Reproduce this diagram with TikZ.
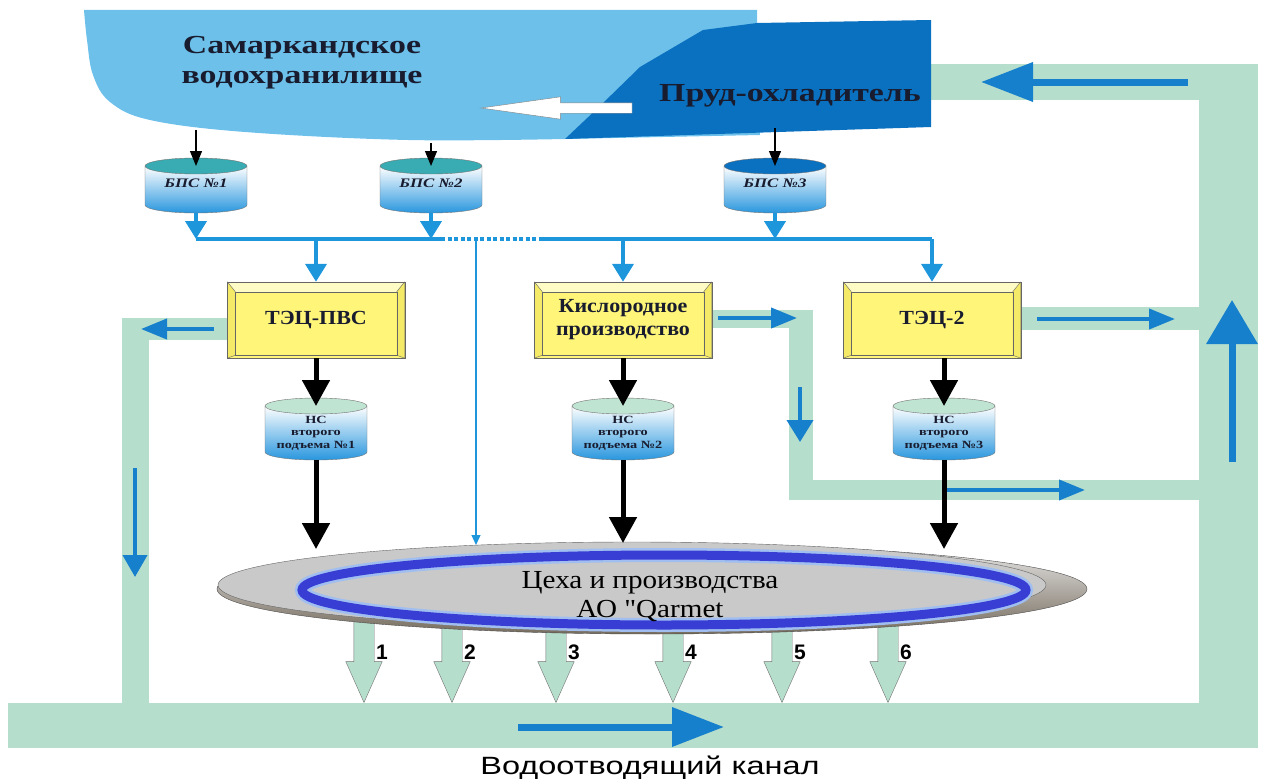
\documentclass[tikz,border=0pt]{standalone}
\usepackage{fontspec}
\setmainfont{Liberation Serif}[FakeStretch=1.3,Ligatures=TeXOff]
\newfontfamily\plantfont{Liberation Serif}[FakeStretch=1.1]
\newfontfamily\shopfont{Liberation Serif}[FakeStretch=1.12,Ligatures=TeXOff]
\newfontfamily\canalfont{Liberation Sans}[FakeStretch=1.3]
\newfontfamily\numfont{Liberation Sans}
\usetikzlibrary{arrows.meta,shapes.arrows,positioning}

\definecolor{lakeblue}{RGB}{108,192,234}
\definecolor{pondblue}{RGB}{10,112,192}
\definecolor{canalgreen}{RGB}{182,222,204}
\definecolor{flowblue}{RGB}{22,128,204}
\definecolor{busblue}{RGB}{30,150,220}
\definecolor{tankblue}{RGB}{40,150,222}
\definecolor{lidteal}{RGB}{56,172,178}
\definecolor{lidmint}{RGB}{192,228,210}
\definecolor{plantyellow}{RGB}{255,245,120}
\definecolor{bevellight}{RGB}{255,251,196}
\definecolor{bevelside}{RGB}{244,234,104}
\definecolor{ringblue}{RGB}{56,62,212}
\definecolor{ringglow}{RGB}{160,190,240}
\definecolor{rimdark}{RGB}{118,108,94}
\definecolor{navytext}{RGB}{24,28,46}

\tikzstyle{canal}=[fill=canalgreen]
\tikzstyle{lakelabel}=[text=navytext,align=center,font=\fontsize{26}{30}\selectfont\bfseries]
\tikzstyle{plant}=[draw=black!60,fill=plantyellow,minimum width=177pt,minimum height=76pt,
  align=center,text=navytext,font=\plantfont\fontsize{20}{23}\selectfont\bfseries]
\tikzstyle{tankbody}=[minimum width=102pt,inner sep=0pt]
\tikzstyle{tanklabel}=[text=navytext,align=center,inner sep=0pt]
\tikzstyle{intake}=[line width=1.2pt,-{Triangle[width=12pt,length=15pt]}]
\tikzstyle{supply}=[busblue,line width=4pt,-{Triangle[width=21pt,length=18pt]}]
\tikzstyle{bus}=[busblue,line width=3.5pt]
\tikzstyle{tapline}=[busblue,line width=1.3pt,-{Triangle[width=9pt,length=10pt]}]
\tikzstyle{feed}=[line width=5pt,-{Triangle[width=27pt,length=26pt]}]
\tikzstyle{flow}=[flowblue,line width=4pt,-{Triangle[width=20pt,length=26pt]}]
\tikzstyle{bigflow}=[flowblue,line width=7pt,-{Triangle[width=38pt,length=52pt]}]
\tikzstyle{outflow}=[single arrow,draw=black!55,fill=canalgreen,shape border rotate=270,
  minimum height=83pt,minimum width=36pt,single arrow head extend=8pt,
  single arrow tip angle=48,inner sep=10pt,anchor=tip]
\tikzstyle{outlabel}=[font=\numfont\fontsize{21}{21}\selectfont\bfseries]

% cylinder: name, x, lid y, depth, lid colour, text y, text, font
\newcommand{\tank}[8]{%
  \pgfmathsetmacro{\tankL}{#2-51}%
  \pgfmathsetmacro{\tankR}{#2+51}%
  \pgfmathsetmacro{\tankB}{#3+#4}%
  \shade[top color=white,middle color=white!70!tankblue,bottom color=tankblue,draw=black!55]
    (\tankL,#3) -- (\tankL,\tankB) arc[start angle=180,end angle=360,x radius=51pt,y radius=8pt]
    -- (\tankR,#3) -- cycle;
  \draw[black!55,fill=#5] (#2,#3) ellipse [x radius=51pt,y radius=8pt];
  \node[tankbody,minimum height={(#4+8)*1pt},anchor=north] (#1) at (#2,#3) {};
  \node[tanklabel,font=#8] (#1-text) at (#2,#6) {#7};
}

\begin{document}
\begin{tikzpicture}[x=1pt,y=-1pt]
   \useasboundingbox (0,0) rectangle (1263,784);

   % Return canal

   \fill[canal] (8,703) rectangle (1258,748);
   \fill[canal] (1199,64) rectangle (1258,748);
   \fill[canal] (928,64) rectangle (1258,100);
   \fill[canal] (122,318) rectangle (149,703);
   \fill[canal] (122,318) rectangle (230,340);
   \fill[canal] (710,310) rectangle (813,328);
   \fill[canal] (789,310) rectangle (813,500);
   \fill[canal] (789,480) rectangle (1199,500);
   \fill[canal] (1019,307) rectangle (1199,330);

   % Reservoir and cooling pond

   \fill[lakeblue] plot[smooth,tension=0.6] coordinates {(84,10) (87,40) (93,75) (110,102)
(150,120) (245,132) (408,140) (565,139)} -- (760,135) -- (757,23) -- (757,10) -- cycle;
   \fill[pondblue] (565,139) -- (602,104) -- (640,67) -- (703,30) -- (757,23) -- (931,20)
-- (931,127) -- cycle;

   \node[lakelabel] (samark) at (302,63) {Самаркандское\\водохранилище};
   \node[lakelabel] (prud) at (790,96) {Пруд-охладитель};
   \node[single arrow,draw=black!50,fill=white,shape border rotate=180,minimum height=151pt,
minimum width=22pt,single arrow head extend=6pt,single arrow tip angle=16,inner sep=5pt]
(backflow) at (575,108) {};

   % Pumping stations of first lift

   \tank{bps1}{196}{166}{39}{lidteal}{183}{БПС №1}{\fontsize{13}{14}\selectfont\bfseries\itshape}
   \tank{bps2}{431}{166}{39}{lidteal}{183}{БПС №2}{\fontsize{13}{14}\selectfont\bfseries\itshape}
   \tank{bps3}{775}{166}{39}{pondblue}{183}{БПС №3}{\fontsize{13}{14}\selectfont\bfseries\itshape}

   \coordinate (lk1) at (196,130);
   \coordinate (lk2) at (431,143);
   \coordinate (lk3) at (775,128);
   \draw[intake] (lk1) -- (bps1.north);
   \draw[intake] (lk2) -- (bps2.north);
   \draw[intake] (lk3) -- (bps3.north);

   % Consumers

   \node[plant] (tecpvs) at (316,320) {ТЭЦ-ПВС};
   \node[plant] (kislorod) at (623,320) {Кислородное\\производство};
   \node[plant] (tec2) at (932,320) {ТЭЦ-2};

   \foreach \b in {tecpvs,kislorod,tec2}{
      \fill[bevellight] (\b.north west) -- (\b.north east) -- ([shift={(-8pt,-10pt)}]\b.north east)
-- ([shift={(8pt,-10pt)}]\b.north west) -- cycle;
      \fill[bevelside] (\b.north west) -- ([shift={(8pt,-10pt)}]\b.north west)
-- ([shift={(8pt,3pt)}]\b.south west) -- (\b.south west) -- cycle;
      \fill[bevelside] (\b.north east) -- ([shift={(-8pt,-10pt)}]\b.north east)
-- ([shift={(-8pt,3pt)}]\b.south east) -- (\b.south east) -- cycle;
      \draw[black!60] ([shift={(8pt,-10pt)}]\b.north west) rectangle ([shift={(-8pt,3pt)}]\b.south east);
      \draw[black!60] (\b.north west) rectangle (\b.south east);
      \draw[black!60] (\b.north west) -- ([shift={(8pt,-10pt)}]\b.north west);
      \draw[black!60] (\b.north east) -- ([shift={(-8pt,-10pt)}]\b.north east);
      \draw[black!60] (\b.south west) -- ([shift={(8pt,3pt)}]\b.south west);
      \draw[black!60] (\b.south east) -- ([shift={(-8pt,3pt)}]\b.south east);
   }

   % Supply main

   \coordinate (bus) at (0,239);
   \coordinate (dotA) at (441,239);
   \coordinate (dotB) at (543,239);
   \coordinate (tap) at (476,239);
   \coordinate (docktap) at (476,545);

   \draw[bus] (bps1.south |- bus) -- (dotA);
   \draw[bus,dash pattern=on 4pt off 2.5pt] (dotA) -- (dotB);
   \draw[bus] (dotB) -- (tec2.north |- bus);
   \draw[supply] (bps1.south) -- (bps1.south |- bus);
   \draw[supply] (bps2.south) -- (bps2.south |- bus);
   \draw[supply] (bps3.south) -- (bps3.south |- bus);
   \draw[supply] (tecpvs.north |- bus) -- (tecpvs.north);
   \draw[supply] (kislorod.north |- bus) -- (kislorod.north);
   \draw[supply] (tec2.north |- bus) -- (tec2.north);
   \draw[tapline] (tap) -- (docktap);

   % Pumping stations of second lift

   \tank{ns1}{316}{406}{46}{lidmint}{433}{НС\\второго\\подъема №1}{\fontsize{11}{12.5}\selectfont\bfseries}
   \tank{ns2}{623}{406}{46}{lidmint}{433}{НС\\второго\\подъема №2}{\fontsize{11}{12.5}\selectfont\bfseries}
   \tank{ns3}{944}{406}{46}{lidmint}{433}{НС\\второго\\подъема №3}{\fontsize{11}{12.5}\selectfont\bfseries}

   \draw[feed] (ns1.north |- tecpvs.south) -- (ns1.north);
   \draw[feed] (ns2.north |- kislorod.south) -- (ns2.north);
   \draw[feed] (ns3.north |- tec2.south) -- (ns3.north);

   % Discharges

   \foreach \x/\n in {364/1,452/2,556/3,673/4,782/5,888/6}{
      \node[outflow] (out\n) at (\x,703) {};
      \node[outlabel] (lab\n) at (\x+18,652) {\n};
   }

   % Shops

   \shade[top color=black!8,bottom color=rimdark,draw=black!70] (652,589) ellipse [x radius=435pt,y radius=45pt];
   \fill[black!21,draw=black!60] (632,585) ellipse [x radius=414pt,y radius=43pt];
   \draw[ringglow,line width=14pt] (664,590) ellipse [x radius=362pt,y radius=35pt];
   \draw[ringblue,line width=9pt] (664,590) ellipse [x radius=362pt,y radius=35pt];
   \node[align=center,font=\shopfont\fontsize{26}{29}\selectfont] (shops) at (650,597)
{Цеха и производства\\АО "Qarmet};

   \coordinate (dock1) at (316,549);
   \coordinate (dock2) at (623,543);
   \coordinate (dock3) at (944,549);
   \draw[feed] (ns1.south) -- (dock1);
   \draw[feed] (ns2.south) -- (dock2);
   \draw[feed] (ns3.south) -- (dock3);

   % Flow in canal

   \coordinate (c1) at (1188,82);  \coordinate (c2) at (981,82);
   \coordinate (c3) at (1232,462); \coordinate (c4) at (1232,300);
   \coordinate (c5) at (518,727);  \coordinate (c6) at (724,727);
   \coordinate (c7) at (214,329);  \coordinate (c8) at (141,329);
   \coordinate (c9) at (135,468);  \coordinate (c10) at (135,577);
   \coordinate (c11) at (718,318); \coordinate (c12) at (797,318);
   \coordinate (c13) at (800,387); \coordinate (c14) at (800,442);
   \coordinate (c15) at (947,490); \coordinate (c16) at (1085,490);
   \coordinate (c17) at (1037,319); \coordinate (c18) at (1175,319);

   \draw[bigflow] (c1) -- (c2);
   \draw[bigflow,-{Triangle[width=50pt,length=44pt]}] (c3) -- (c4);
   \draw[bigflow] (c5) -- (c6);
   \draw[flow] (c7) -- (c8);
   \draw[flow,-{Triangle[width=24pt,length=22pt]}] (c9) -- (c10);
   \draw[flow] (c11) -- (c12);
   \draw[flow,-{Triangle[width=26pt,length=22pt]}] (c13) -- (c14);
   \draw[flow] (c15) -- (c16);
   \draw[flow] (c17) -- (c18);

   \node[font=\canalfont\fontsize{25}{25}\selectfont] (canalname) at (650,768) {Водоотводящий канал};

\end{tikzpicture}
\end{document}
